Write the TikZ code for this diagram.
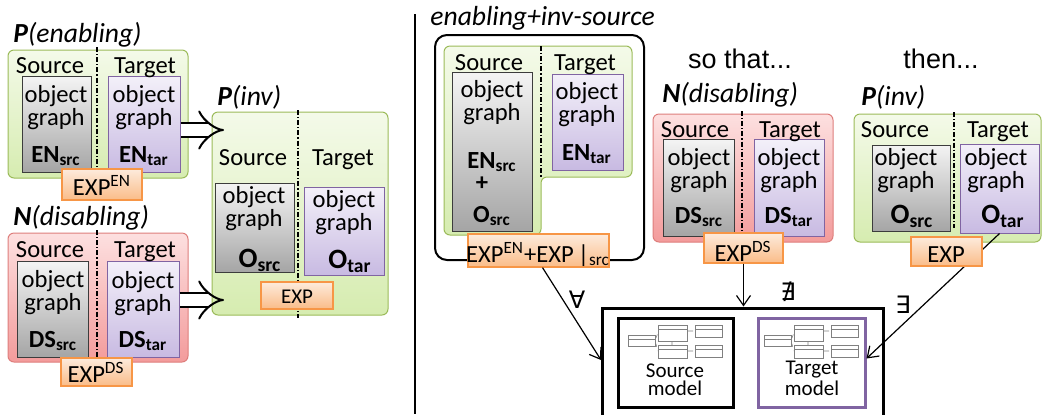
\documentclass[tikz,border=0pt]{standalone}
\usepackage{amssymb}
\usepackage{fontspec}
\setmainfont{Carlito}
\newfontfamily\symfont{DejaVu Sans}
\newfontfamily\arialfont{Liberation Sans}
\usetikzlibrary{arrows.meta,calc,positioning,fit}
\definecolor{GrnLine}{RGB}{155,187,89}
\definecolor{GrnTop}{RGB}{244,250,233}
\definecolor{GrnBot}{RGB}{214,236,176}
\definecolor{RedLine}{RGB}{222,126,124}
\definecolor{RedTop}{RGB}{253,224,224}
\definecolor{RedBot}{RGB}{243,155,155}
\definecolor{GryLine}{RGB}{60,60,60}
\definecolor{GryTop}{RGB}{244,244,244}
\definecolor{GryBot}{RGB}{165,165,165}
\definecolor{PurLine}{RGB}{128,100,162}
\definecolor{PurTop}{RGB}{243,240,249}
\definecolor{PurBot}{RGB}{200,186,226}
\definecolor{OrgLine}{RGB}{247,150,70}
\definecolor{OrgTop}{RGB}{253,235,220}
\definecolor{OrgBot}{RGB}{250,188,136}

\begin{document}
\begin{tikzpicture}[x=0.5pt, y=-0.5pt, font=\fontsize{12.3}{11.5}\selectfont,
  every node/.append style={align=center},
  grnbox/.style={draw=GrnLine, top color=GrnTop, bottom color=GrnBot, rounded corners=3pt, line width=0.5pt, inner sep=0pt},
  redbox/.style={draw=RedLine, top color=RedTop, bottom color=RedBot, rounded corners=3pt, line width=0.5pt, inner sep=0pt},
  srcbox/.style={draw=GryLine, top color=GryTop, bottom color=GryBot, line width=0.5pt, inner sep=0pt},
  tarbox/.style={draw=PurLine, top color=PurTop, bottom color=PurBot, line width=0.5pt, inner sep=0pt},
  expbox/.style={draw=OrgLine, top color=OrgTop, bottom color=OrgBot, line width=0.6pt, inner sep=0pt},
  divider/.style={line width=0.6pt, dash pattern=on 2.5pt off 1pt on 0.6pt off 1pt},
  ttl/.style={font=\fontsize{13.8}{14}\selectfont\itshape, anchor=base west, inner sep=0pt},
  txt/.style={anchor=base, inner sep=0pt},
  quant/.style={font=\symfont\fontsize{12}{12}\selectfont, inner sep=0pt},
  conn/.style={line width=0.6pt, -{Straight Barb[length=5pt, width=7pt]}},
  dblarrow/.style={double, double distance=6pt, line width=1pt, -{Implies}},
  mini/.style={draw=gray, fill=white, line width=0.3pt},
]
  \clip (0,0) rectangle (1043,414);

  % ---------- left: P(enabling) ----------
  \node[ttl] (entitle) at (13,42) {\textbf{P}(enabling)};
  \node[grnbox, fit={(8,50) (188,178)}] (enbox) {};
  \node[srcbox, fit={(22,76) (91,172)}] (ensrc) {};
  \node[tarbox, fit={(108,76) (180,172)}] (entar) {};
  \draw[divider] (97,47) -- (97,178);
  \node[txt] (ensrclbl) at (50,73) {Source};
  \node[txt] (entarlbl) at (145,73) {Target};
  \node[txt] (ensrcog) at (56,125) {object\\graph};
  \node[txt] (entarog) at (144,125) {object\\graph};
  \node[txt] (ensrcid) at (56,162) {\textbf{EN\textsubscript{src}}};
  \node[txt] (entarid) at (144,162) {\textbf{EN\textsubscript{tar}}};
  \node[expbox, fit={(62,169) (142,200)}] (enexp) {};
  \node[txt] (enexptxt) at (102,195) {EXP\textsuperscript{EN}};

  % ---------- left: N(disabling) ----------
  \node[ttl] (dstitle) at (13,225) {\textbf{N}(disabling)};
  \node[redbox, fit={(8,233) (188,362)}] (dsbox) {};
  \node[srcbox, fit={(17,261) (88,357)}] (dssrc) {};
  \node[tarbox, fit={(107,261) (179,357)}] (dstar) {};
  \draw[divider] (97,230) -- (97,362);
  \node[txt] (dssrclbl) at (50,257) {Source};
  \node[txt] (dstarlbl) at (145,257) {Target};
  \node[txt] (dssrcog) at (53,310) {object\\graph};
  \node[txt] (dstarog) at (143,311) {object\\graph};
  \node[txt] (dssrcid) at (53,347) {\textbf{DS\textsubscript{src}}};
  \node[txt] (dstarid) at (143,347) {\textbf{DS\textsubscript{tar}}};
  \node[expbox, fit={(61,358) (132,386)}] (dsexp) {};
  \node[txt] (dsexptxt) at (96,382) {EXP\textsuperscript{DS}};

  % ---------- left: P(inv) ----------
  \node[ttl] (invtitle) at (217,105) {\textbf{P}(inv)};
  \node[grnbox, fit={(212,112) (388,315)}] (invbox) {};
  \node[srcbox, fit={(215,183) (294,272)}] (osrc) {};
  \node[tarbox, fit={(304,187) (384,275)}] (otar) {};
  \draw[divider] (298,110) -- (298,318);
  \node[txt] (osrclbl) at (253,165) {Source};
  \node[txt] (otarlbl) at (343,165) {Target};
  \node[txt] (osrcog) at (254,226) {object\\graph};
  \node[txt] (otarog) at (344,230) {object\\graph};
  \node[txt] (osrcid) at (260,267) {\textbf{\fontsize{14}{14}\selectfont O\textsubscript{src}}};
  \node[txt] (otarid) at (350,268) {\textbf{\fontsize{14}{14}\selectfont O\textsubscript{tar}}};
  \node[expbox, fit={(261,282) (333,309)}] (invexp) {};
  \node[txt] (invexptxt) at (297,303) {\fontsize{10.5}{11}\selectfont EXP};

  % double arrows into P(inv)
  \coordinate (inA) at (224,130);
  \coordinate (inB) at (224,300);
  \draw[dblarrow] (entar.east |- inA) -- (inA);
  \draw[dblarrow] (dstar.east |- inB) -- (inB);

  % separator
  \draw[line width=1pt] (415,14) -- (415,414);

  % ---------- right: models ----------
  \node[fit={(602,308) (883,440)}, draw, line width=1.5pt, inner sep=0pt] (models) {};
  \node[fit={(618,318) (733,407)}, draw, line width=1.5pt, inner sep=0pt] (srcmodel) {};
  \node[fit={(758,318) (865,407)}, draw=PurLine, line width=1.5pt, inner sep=0pt] (tarmodel) {};
  \foreach \dx in {0,136} {
    \begin{scope}[xshift=\dx*0.5pt]
      \draw[gray, densely dashed, line width=0.3pt] (655,340) -- (658,333) (655,341) -- (658,351)
        (687,331) -- (695,331) (687,351) -- (695,351) (672,341) -- (672,345);
      \draw[mini] (628,335) rectangle (655,346);
      \draw[mini] (658,325) rectangle (687,341);
      \draw[mini] (658,345) rectangle (687,358);
      \draw[mini] (695,325) rectangle (722,337);
      \draw[mini] (695,345) rectangle (722,357);
      \draw[gray, line width=0.3pt] (628,339) -- (655,339) (658,329) -- (687,329) (658,349) -- (687,349)
        (695,329) -- (722,329) (695,349) -- (722,349);
    \end{scope}
  }
  \node[txt, font=\fontsize{10.5}{9}\selectfont] (srcmodeltxt) at (675,395) {Source\\model};
  \node[txt, font=\fontsize{10.5}{9}\selectfont] (tarmodeltxt) at (812,395) {Target\\model};

  % ---------- right: enabling+inv-source ----------
  \node[ttl] (cbtitle) at (430,25) {enabling+inv-source};
  \node[fit={(435,35) (644,260)}, draw, line width=1pt, rounded corners=6pt, inner sep=0pt] (combo) {};
  \shade[draw=GrnLine, top color=GrnTop, bottom color=GrnBot, rounded corners=3pt, line width=0.5pt]
    (444,46) -- (632,46) -- (632,177) -- (541,177) -- (541,235) -- (444,235) -- cycle;
  \node[srcbox, fit={(452,72) (532,231)}] (cbsrc) {};
  \node[tarbox, fit={(552,74) (623,170)}] (cbtar) {};
  \draw[divider] (541,46) -- (541,177);
  \node[txt] (cbsrclbl) at (489,70) {Source};
  \node[txt] (cbtarlbl) at (585,70) {Target};
  \node[txt] (cbsrcog) at (492,120) {object\\graph};
  \node[txt] (cbtarog) at (587,122) {object\\graph};
  \node[txt] (cbsrcid) at (492,168) {\textbf{EN\textsubscript{src}}};
  \node[txt] (cbplus) at (482,190) {\textbf{+}};
  \node[txt] (cbosrc) at (492,222) {\textbf{O\textsubscript{src}}};
  \node[txt] (cbtarid) at (587,160) {\textbf{EN\textsubscript{tar}}};
  \node[expbox, fit={(468,234) (609,267)}] (cbexp) {};
  \node[txt] (cbexptxt) at (538,262) {EXP\textsuperscript{EN}+EXP\,|\textsubscript{src}};

  % ---------- right: so that... N(disabling) ----------
  \node[txt, font=\arialfont\fontsize{13.5}{15}\selectfont] (sothat) at (740,68) {so that...};
  \node[ttl] (ds2title) at (662,102) {\textbf{N}(disabling)};
  \node[redbox, fit={(653,114) (833,242)}] (ds2box) {};
  \node[srcbox, fit={(663,139) (734,236)}] (ds2src) {};
  \node[tarbox, fit={(754,139) (824,236)}] (ds2tar) {};
  \draw[divider] (742,111) -- (742,242);
  \node[txt] (ds2srclbl) at (695,137) {Source};
  \node[txt] (ds2tarlbl) at (790,137) {Target};
  \node[txt] (ds2srcog) at (699,188) {object\\graph};
  \node[txt] (ds2tarog) at (789,188) {object\\graph};
  \node[txt] (ds2srcid) at (699,223) {\textbf{DS\textsubscript{src}}};
  \node[txt] (ds2tarid) at (789,223) {\textbf{DS\textsubscript{tar}}};

  % ---------- right: then... P(inv) ----------
  \node[txt, font=\arialfont\fontsize{13.5}{15}\selectfont] (thentxt) at (941,68) {then...};
  \node[ttl] (inv2title) at (861,105) {\textbf{P}(inv)};
  \node[grnbox, fit={(854,114) (1041,242)}] (inv2box) {};
  \node[srcbox, fit={(872,145) (950,231)}] (o2src) {};
  \node[tarbox, fit={(960,144) (1039,233)}] (o2tar) {};
  \draw[divider] (954,112) -- (954,228);
  \node[txt] (o2srclbl) at (895,137) {Source};
  \node[txt] (o2tarlbl) at (998,137) {Target};
  \node[txt] (o2srcog) at (906,188) {object\\graph};
  \node[txt] (o2tarog) at (996,188) {object\\graph};
  \node[txt] (o2srcid) at (912,223) {\textbf{\fontsize{14}{14}\selectfont O\textsubscript{src}}};
  \node[txt] (o2tarid) at (1003,223) {\textbf{\fontsize{14}{14}\selectfont O\textsubscript{tar}}};

  % connectors to the models
  \coordinate (faend) at (601,360);
  \draw[conn] ([xshift=2pt]cbexp.south) -- (faend);
  \node[quant] (forall) at (577,300) {∀};
  \draw[conn] (o2tar.south) -- ([yshift=2pt]tarmodel.east);
  \node[quant] (exists) at (903,305) {∃};
  \node[quant] (nexists) at (788,292) {∄};

  % exp boxes over the arrows
  \node[expbox, fit={(704,233) (783,263)}] (ds2exp) {};
  \node[txt] (ds2exptxt) at (743,261) {EXP\textsuperscript{DS}};
  \draw[conn] (ds2exp.south) -- (ds2exp.south |- models.north);
  \node[expbox, fit={(911,237) (982,266)}] (inv2exp) {};
  \node[txt] (inv2exptxt) at (946,262) {EXP};
\end{tikzpicture}
\end{document}
